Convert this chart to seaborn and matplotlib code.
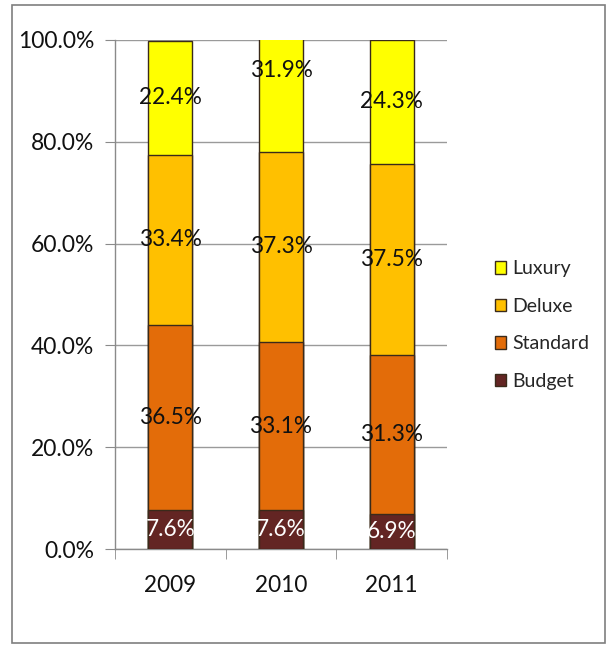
import numpy as np
import pandas as pd
import matplotlib
matplotlib.use("Agg")
import matplotlib.pyplot as plt
from matplotlib.patches import Patch, Rectangle
import seaborn as sns

years = ["2009", "2010", "2011"]
series = ["Budget", "Standard", "Deluxe", "Luxury"]
budget = [7.6, 7.6, 6.9]
standard = [36.5, 33.1, 31.3]
deluxe = [33.4, 37.3, 37.5]
luxury = [22.4, 31.9, 24.3]
colors = {"Budget": "#632523", "Standard": "#E36C09", "Deluxe": "#FFC000", "Luxury": "#FFFF00"}
label_colors = {"Budget": "white", "Standard": "#111111", "Deluxe": "#111111", "Luxury": "#111111"}
yticks = [0, 20, 40, 60, 80, 100]

sns.set_style("white")
plt.rcParams["font.family"] = ["Lato", "DejaVu Sans"]

vals = {"Budget": budget, "Standard": standard, "Deluxe": deluxe, "Luxury": luxury}
df = pd.DataFrame(vals, index=years)
cum = df.cumsum(axis=1)
bottoms = cum - df

fig = plt.figure(figsize=(6.08, 6.46), dpi=100)
ax = fig.add_axes([115/608, (646-549)/646, (447-115)/608, (549-40)/646])

# draw from top layer down so lower layers overlay
for s in reversed(series):
    sns.barplot(x=years, y=cum[s].values, color=colors[s], width=0.4,
                edgecolor="#3a2a1a", linewidth=1.0, ax=ax, saturation=1, zorder=3)

for s in series:
    for i, y in enumerate(years):
        center = bottoms.loc[y, s] + df.loc[y, s] / 2
        ax.text(i, center, f"{df.loc[y, s]:.1f}%", ha="center", va="center",
                fontsize=16.3, color=label_colors[s], zorder=5)

ax.set_ylim(0, 100)
ax.set_xlim(-0.5, 2.5)
ax.set_yticks(yticks)
ax.set_yticklabels([f"{v:.1f}%" for v in yticks], fontsize=16.5, color="#111111")
ax.set_xticks(range(len(years)))
ax.set_xticklabels(years, fontsize=16.3, color="#111111")
ax.set_xticks([-0.5, 0.5, 1.5, 2.5], minor=True)
ax.tick_params(axis="x", which="major", length=0, pad=19)
ax.tick_params(axis="x", which="minor", length=7, color="#8a8a8a", direction="out", bottom=True)
ax.tick_params(axis="y", which="major", length=7, color="#8a8a8a", direction="out", left=True, pad=8)
ax.set_xlabel("")
ax.set_ylabel("")
ax.yaxis.grid(True, color="#9a9a9a", linewidth=1.0, zorder=0)
ax.set_axisbelow(True)
for sp in ["top", "right"]:
    ax.spines[sp].set_visible(False)
for sp in ["left", "bottom"]:
    ax.spines[sp].set_color("#8a8a8a")
    ax.spines[sp].set_linewidth(1.0)

handles = [Patch(facecolor=colors[s], edgecolor="#3a2a1a", linewidth=1.0, label=s)
           for s in reversed(series)]
fig.legend(handles=handles, loc="center left", bbox_to_anchor=(485/608, 1 - 325/646),
           frameon=False, fontsize=14, handlelength=0.6, handleheight=0.6,
           handletextpad=0.3, labelspacing=1.05, borderpad=0)

fig.patches.append(Rectangle((12/608, 3/646), 593/608, 638/646, transform=fig.transFigure,
                             fill=False, edgecolor="#7f7f7f", linewidth=1.2))

fig.savefig("out.png", dpi=100)
